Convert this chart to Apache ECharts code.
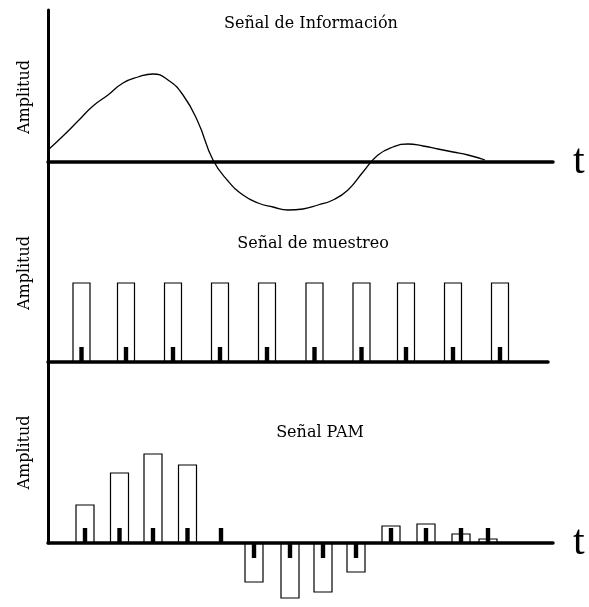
<!DOCTYPE html>
<html>
<head>
<meta charset="utf-8">
<script src="https://cdn.jsdelivr.net/npm/echarts@6/dist/echarts.min.js"></script>
<style>
html,body{margin:0;padding:0;background:#fff;}
#chart{width:589px;height:607px;}
</style>
</head>
<body>
<div id="chart"></div>
<script>
// ---- data ----
const infoTime = [0, 3, 6, 9, 12, 15, 18, 21, 24, 27, 30, 33, 36, 39, 42, 45, 48, 51, 54, 57, 60, 63, 66, 69, 72, 75, 78, 81, 84, 87.4];
const infoAmp  = [12, 26, 41, 56, 67, 79, 85, 88, 82, 67, 40, 2, -19, -33, -41, -45, -48, -47, -43, -38, -28, -10, 7, 15, 18, 16, 13, 10, 7, 2];

const sampleTime = [6.7, 15.6, 25, 34.4, 43.8, 53.3, 62.7, 71.6, 81, 90.4];
const sampleAmp  = [1, 1, 1, 1, 1, 1, 1, 1, 1, 1];

const pamTime = [7.4, 14.3, 21, 27.9, 34.6, 41.2, 48.4, 55, 61.6, 68.6, 75.6, 82.6, 88];
const pamAmp  = [38, 70, 89, 78, 0, -39, -55, -49, -29, 17, 19, 9, 4];

const titles = ['Señal de Información', 'Señal de muestreo', 'Señal PAM'];
const yName = 'Amplitud';
const xName = 't';

// ---- style ----
const SERIF = 'DejaVu Serif';
const TICK_H = 15, TICK_W = 4.4;

function pulseItem(widthUnits) {
  return function (params, api) {
    const t = api.value(0), v = api.value(1);
    const p0 = api.coord([t, 0]);
    const p1 = api.coord([t, v]);
    const w = api.size([widthUnits, 0])[0];
    const children = [];
    if (v !== 0) {
      children.push({
        type: 'polyline',
        shape: { points: [[p0[0] - w / 2, p0[1]], [p0[0] - w / 2, p1[1]], [p0[0] + w / 2, p1[1]], [p0[0] + w / 2, p0[1]]] },
        style: { stroke: '#000', fill: 'none', lineWidth: 1.2 }
      });
    }
    const down = v < 0;
    children.push({
      type: 'rect',
      shape: { x: p0[0] - TICK_W / 2, y: down ? p0[1] : p0[1] - TICK_H, width: TICK_W, height: TICK_H },
      style: { fill: '#000', stroke: 'none' }
    });
    return { type: 'group', children: children };
  };
}

function xAx(idx, max, withName) {
  return {
    type: 'value', gridIndex: idx, min: 0, max: max,
    axisLine: { show: true, onZero: true, lineStyle: { color: '#000', width: 3.5 } },
    axisTick: { show: false }, axisLabel: { show: false }, splitLine: { show: false },
    name: withName ? xName : '', nameLocation: 'end', nameGap: 20,
    nameTextStyle: { fontFamily: 'Liberation Serif', fontSize: 42, color: '#000', verticalAlign: 'middle', padding: [0, 0, 6, 0] }
  };
}
function yAx(idx, min, max) {
  return {
    type: 'value', gridIndex: idx, min: min, max: max,
    axisLine: { show: true, lineStyle: { color: '#000', width: 3 } },
    axisTick: { show: false }, axisLabel: { show: false }, splitLine: { show: false },
    name: yName, nameLocation: 'middle', nameRotate: 90, nameGap: 15,
    nameTextStyle: { fontFamily: SERIF, fontSize: 16, color: '#000' }
  };
}
const titleStyle = { fontFamily: SERIF, fontSize: 16, fontWeight: 'normal', color: '#000' };

const chart = echarts.init(document.getElementById('chart'), null, { renderer: 'canvas' });
chart.setOption({
  backgroundColor: '#fff',
  animation: false,
  title: [
    { text: titles[0], left: 311, top: 24, textAlign: 'center', textVerticalAlign: 'middle', padding: 0, textStyle: titleStyle },
    { text: titles[1], left: 313, top: 244, textAlign: 'center', textVerticalAlign: 'middle', padding: 0, textStyle: titleStyle },
    { text: titles[2], left: 320, top: 433, textAlign: 'center', textVerticalAlign: 'middle', padding: 0, textStyle: titleStyle }
  ],
  grid: [
    { left: 48, top: 10, width: 505, height: 174, containLabel: false, outerBoundsMode: 'none' },
    { left: 48, top: 184, width: 500, height: 178, containLabel: false, outerBoundsMode: 'none' },
    { left: 48, top: 362, width: 505, height: 181, containLabel: false, outerBoundsMode: 'none' }
  ],
  xAxis: [xAx(0, 101, true), xAx(1, 100, false), xAx(2, 101, true)],
  yAxis: [yAx(0, -22, 152), yAx(1, 0, 2.253), yAx(2, 0, 181)],
  series: [
    {
      type: 'line', xAxisIndex: 0, yAxisIndex: 0, smooth: 0.5, showSymbol: false, clip: false,
      lineStyle: { color: '#000', width: 1.3 },
      data: infoTime.map((t, i) => [t, infoAmp[i]])
    },
    {
      type: 'custom', xAxisIndex: 1, yAxisIndex: 1, clip: false,
      renderItem: pulseItem(3.4),
      data: sampleTime.map((t, i) => [t, sampleAmp[i]])
    },
    {
      type: 'custom', xAxisIndex: 2, yAxisIndex: 2, clip: false,
      renderItem: pulseItem(3.6),
      data: pamTime.map((t, i) => [t, pamAmp[i]])
    }
  ]
});
</script>
</body>
</html>
